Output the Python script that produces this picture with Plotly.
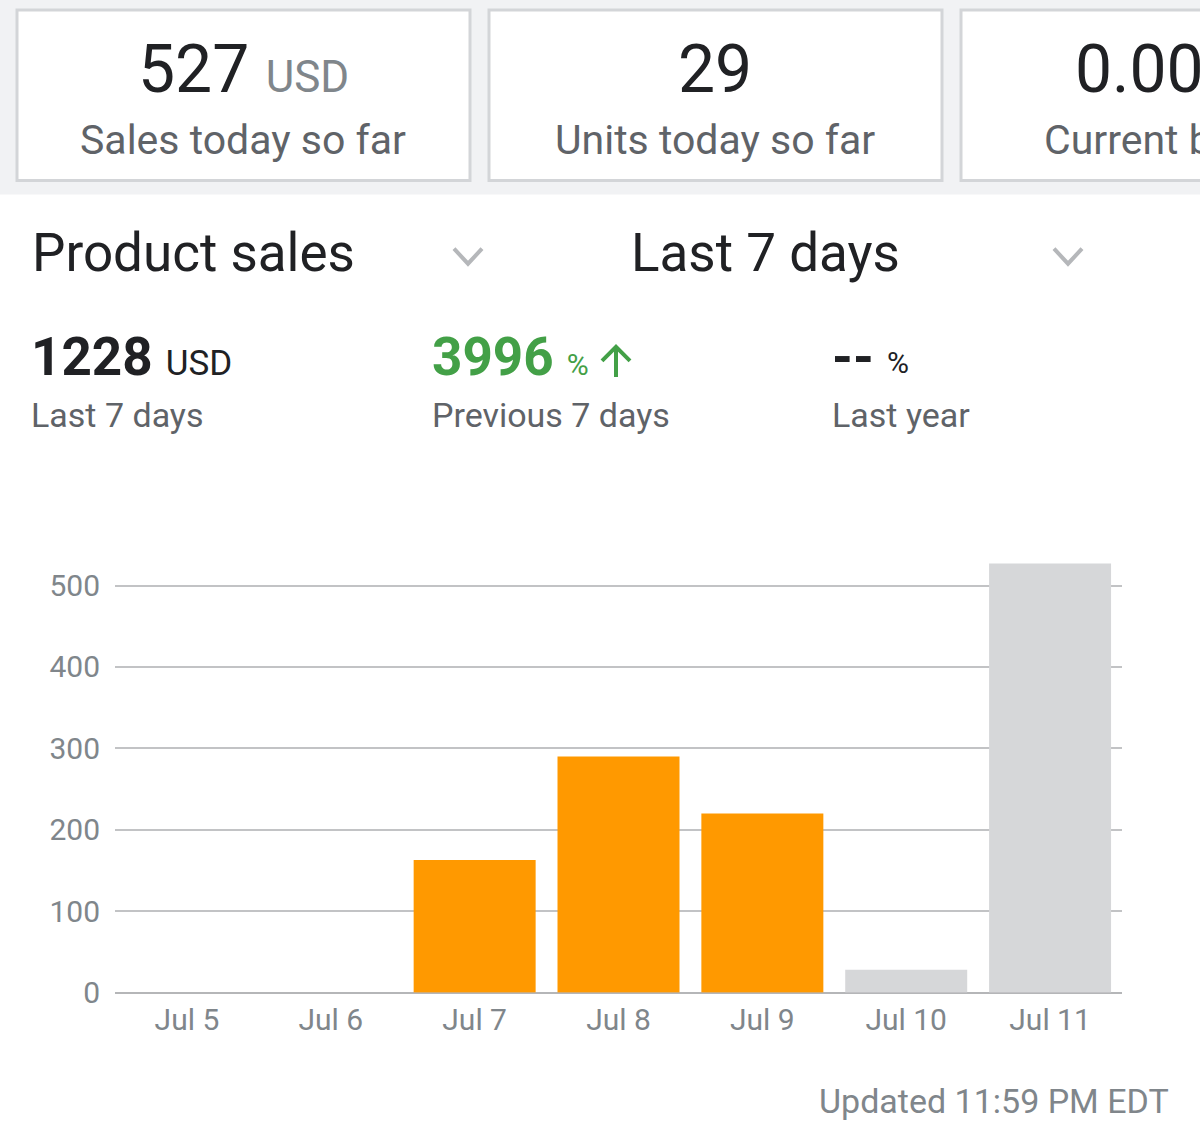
import plotly.graph_objects as go

# ---- data ----
days = ["Jul 5", "Jul 6", "Jul 7", "Jul 8", "Jul 9", "Jul 10", "Jul 11"]
sales = [0, 0, 163, 290, 220, 28, 527]
y_ticks = [0, 100, 200, 300, 400, 500]

sales_today = "527"
units_today = "29"
balance = "0.00"
total_7d = "1228"
change_prev = "3996"
change_year = "--"
updated = "Updated 11:59 PM EDT"

# ---- styles ----
W, H = 1200, 1132      # reference frame
FIG_H = 1152           # rendered height (page is scaled to fit the window)
ORANGE = "#ff9900"
LIGHT = "#d6d7d9"
DARK = "#202124"
GRAY = "#5f6368"
MID = "#80868b"
GREEN = "#43a047"
FONT = "Roboto"
bar_colors = [ORANGE] * 5 + [LIGHT] * 2


def px(x):
    return x / W


def py(y):
    return 1 - y / H


fig = go.Figure()
fig.add_trace(go.Bar(x=days, y=sales, marker=dict(color=bar_colors, line=dict(width=0)),
                     hoverinfo="x+y"))

shapes = []
# top grey band
shapes.append(dict(type="rect", xref="paper", yref="paper", x0=0, x1=1, y0=py(194), y1=1,
                   fillcolor="#f1f2f4", line=dict(width=0), layer="below"))
# cards
for x0, x1 in [(17, 470), (489, 942), (961, 1420)]:
    shapes.append(dict(type="rect", xref="paper", yref="paper", x0=px(x0), x1=px(x1),
                       y0=py(180), y1=py(10), fillcolor="white",
                       line=dict(color="#d3d5d8", width=3), layer="below"))
# chevrons
for cx in [468, 1068]:
    shapes.append(dict(type="path", xref="paper", yref="paper",
                       path=f"M {px(cx-14)} {py(248)} L {px(cx)} {py(263)} L {px(cx+14)} {py(248)}",
                       line=dict(color="#b5b7ba", width=4)))
# green up arrow
ax = 616
shapes.append(dict(type="path", xref="paper", yref="paper",
                   path=f"M {px(ax)} {py(376)} L {px(ax)} {py(347)}",
                   line=dict(color=GREEN, width=4)))
shapes.append(dict(type="path", xref="paper", yref="paper",
                   path=f"M {px(ax-14)} {py(360)} L {px(ax)} {py(346)} L {px(ax+14)} {py(360)}",
                   line=dict(color=GREEN, width=4)))

ann = []


def text(x, y, t, size, color, xanchor="left"):
    ann.append(dict(xref="paper", yref="paper", x=px(x), y=py(y), text=t,
                    xanchor=xanchor, yanchor="middle", showarrow=False,
                    font=dict(family=FONT, size=size, color=color)))


# card texts
text(243, 69, f"{sales_today} <span style='font-size:44px;color:{MID}'>USD</span>", 66, DARK, "center")
text(243, 140, "Sales today so far", 41, GRAY, "center")
text(715, 69, units_today, 66, DARK, "center")
text(715, 140, "Units today so far", 41, GRAY, "center")
text(1073, 69, f"{balance} <span style='font-size:44px;color:{MID}'>USD</span>", 66, DARK, "left")
text(1042, 140, "Current balance", 41, GRAY, "left")

# header
text(30, 252, "Product sales", 53, DARK)
text(629, 252, "Last 7 days", 53, DARK)

# metrics
text(29, 356, f"<b>{total_7d}</b> <span style='font-size:35px'>USD</span>", 53, DARK)
text(430, 356, f"<b>{change_prev}</b> <span style='font-size:30px'>%</span>", 53, GREEN)
text(830, 356, f"<b>{change_year}</b>", 53, DARK)
text(885, 362, "%", 30, DARK)
text(29, 414, "Last 7 days", 34, GRAY)
text(430, 414, "Previous 7 days", 34, GRAY)
text(830, 414, "Last year", 34, GRAY)

# footer
text(1171, 1098, updated, 34, MID, "right")

y_bottom = 990
scale = 0.812  # reference px per unit
y_max = 560
fig.update_layout(
    width=W, height=FIG_H,
    margin=dict(l=0, r=0, t=0, b=0),
    paper_bgcolor="white", plot_bgcolor="white",
    showlegend=False,
    bargap=0.152,
    shapes=shapes, annotations=ann,
    font=dict(family=FONT),
    xaxis=dict(domain=[px(115), px(1122)], type="category", range=[-0.5, 6.5],
               showgrid=False, showline=False, zeroline=False, ticks="",
               tickfont=dict(family=FONT, size=30, color=MID), ticklabelstandoff=6,
               fixedrange=True),
    yaxis=dict(domain=[py(y_bottom), py(y_bottom - y_max * scale)], range=[0, y_max],
               tickvals=y_ticks, showgrid=True, gridcolor="#c2c3c5", gridwidth=1.5,
               zeroline=True, zerolinecolor="#b5b6b8", zerolinewidth=2,
               showline=False, ticks="",
               tickfont=dict(family=FONT, size=30, color=MID), ticklabelstandoff=14,
               fixedrange=True),
)

fig.write_html("out.html", config={"displayModeBar": False},
               post_script="document.body.style.margin='0';document.body.style.overflow='hidden';")
